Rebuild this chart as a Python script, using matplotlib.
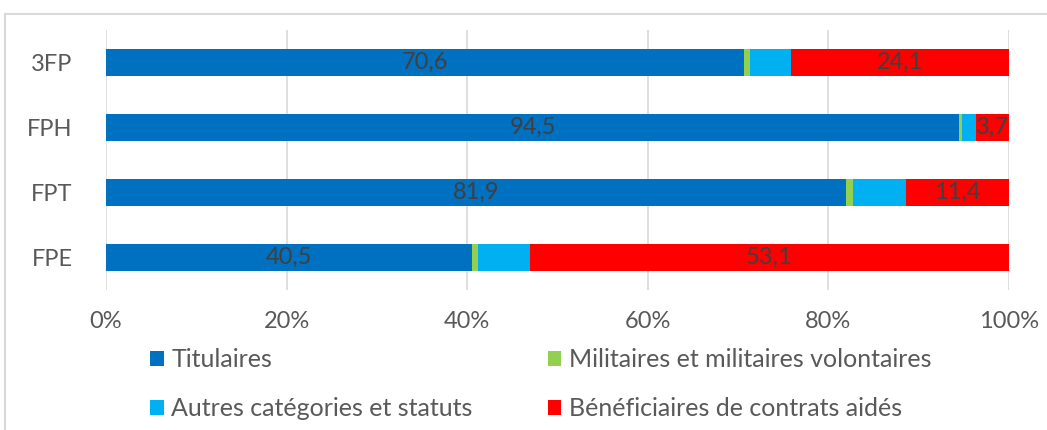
import matplotlib.pyplot as plt
from matplotlib.patches import Rectangle
import numpy as np

plt.rcParams['font.family'] = ['Lato', 'DejaVu Sans']

categories = ["FPE", "FPT", "FPH", "3FP"]
titulaires = [40.5, 81.9, 94.5, 70.6]
militaires = [0.7, 0.8, 0.3, 0.7]
autres = [5.7, 5.9, 1.5, 4.6]
contrats_aides = [53.1, 11.4, 3.7, 24.1]

series_names = ["Titulaires", "Militaires et militaires volontaires",
                "Autres catégories et statuts", "Bénéficiaires de contrats aidés"]
colors = ["#0070c0", "#92d050", "#00b0f0", "#ff0000"]
text_color = "#595959"

fig = plt.figure(figsize=(10.47, 4.30), dpi=100)
ax = fig.add_axes([106 / 1047, 1 - 290 / 430, 903 / 1047, 260 / 430])

y = np.arange(len(categories))
left = np.zeros(len(categories))
bars = []
for vals, col, name in zip([titulaires, militaires, autres, contrats_aides],
                           colors, series_names):
    b = ax.barh(y, vals, left=left, height=0.43, color=col, label=name, zorder=3)
    bars.append(b)
    left += np.array(vals)

ax.bar_label(bars[0], labels=[f"{v:.1f}".replace(".", ",") for v in titulaires],
             label_type="center", color="#404040", fontsize=17)
ax.bar_label(bars[3], labels=[f"{v:.1f}".replace(".", ",") for v in contrats_aides],
             label_type="center", color="#404040", fontsize=17)

ax.set_xlim(0, 100)
ax.set_ylim(-0.5, len(categories) - 0.5)
ax.set_xticks(np.arange(0, 101, 20))
ax.set_xticklabels([f"{t}%" for t in range(0, 101, 20)])
ax.set_yticks(y)
ax.set_yticklabels(categories)
ax.tick_params(length=0, labelsize=17, colors=text_color)
ax.tick_params(axis="x", pad=15)
ax.tick_params(axis="y", pad=24)
ax.grid(axis="x", color="#d9d9d9", linewidth=1.2, zorder=0)
for s in ax.spines.values():
    s.set_visible(False)

# row-wise legend order: Titulaires, Militaires / Autres, Bénéficiaires
order = [0, 2, 1, 3]
handles = [bars[i] for i in order]
labels = [series_names[i] for i in order]
fig.legend(handles, labels, loc="upper left",
           bbox_to_anchor=(140 / 1047, 1 - 338 / 430),
           ncol=2, frameon=False, fontsize=18, handlelength=0.55,
           handleheight=0.55, handletextpad=0.3, columnspacing=3.0,
           labelspacing=1.05, labelcolor=text_color, borderaxespad=0)

fig.patches.append(Rectangle((5 / 1047, -0.1), 1.1, 1 - 14 / 430 + 0.1,
                             transform=fig.transFigure, fill=False,
                             edgecolor="#d9d9d9", linewidth=1.5))

fig.savefig("out.png", dpi=100)
